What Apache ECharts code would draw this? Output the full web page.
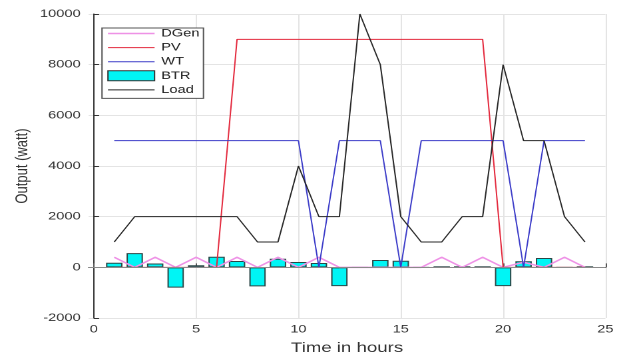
<!DOCTYPE html>
<html>
<head>
<meta charset="utf-8">
<script src="https://cdn.jsdelivr.net/npm/echarts@6/dist/echarts.min.js"></script>
<style>
html,body{margin:0;padding:0;background:#fff;overflow:hidden;}
#c{width:471px;height:358px;transform:scaleX(1.33121);transform-origin:0 0;}
</style>
</head>
<body>
<div id="c"></div>
<script>
// Data
var hours = [1,2,3,4,5,6,7,8,9,10,11,12,13,14,15,16,17,18,19,20,21,22,23,24];
var dgen  = [400,0,400,0,400,0,400,0,400,0,400,0,0,0,0,0,400,0,400,0,200,0,400,0];
var pv    = [0,0,0,0,0,0,9000,9000,9000,9000,9000,9000,9000,9000,9000,9000,9000,9000,9000,0,0,0,0,0];
var wt    = [5000,5000,5000,5000,5000,5000,5000,5000,5000,5000,0,5000,5000,5000,0,5000,5000,5000,5000,5000,0,5000,5000,5000];
var btr   = [180,560,150,-800,80,420,250,-750,340,210,170,-740,0,290,260,0,40,40,40,-740,240,370,0,40];
var load  = [1000,2000,2000,2000,2000,2000,2000,1000,1000,4000,2000,2000,10000,8000,2000,1000,1000,2000,2000,8000,5000,5000,2000,1000];
var xTicks = [0,5,10,15,20,25];
var names = ['DGen','PV','WT','BTR','Load'];

function pairs(arr){ return hours.map(function(h,i){ return [h, arr[i]]; }); }

var chart = echarts.init(document.getElementById('c'), null, {renderer:'canvas', devicePixelRatio:2});
var font = 'Liberation Sans, Arial, Helvetica, sans-serif';
var colors = {DGen:'#ee92e6', PV:'#e3283c', WT:'#3c3cc8', Load:'#262626'};
function lineSeries(name, data, width){
  return {name:name, type:'line', data:pairs(data), symbol:'none', showSymbol:false,
    lineStyle:{color:colors[name], width:width}, itemStyle:{color:colors[name]}, animation:false, z:2};
}
var thinLine = 'path://M0,0H70V2H0Z';
var midLine = 'path://M0,0H70V3H0Z';
chart.setOption({
  animation:false,
  textStyle:{fontFamily:font},
  grid:{left:66.6, right:16.2, top:14, bottom:40, outerBoundsMode:'none', containLabel:false},
  legend:{
    data:[
      {name:'DGen', icon:midLine},
      {name:'PV', icon:thinLine},
      {name:'WT', icon:thinLine},
      {name:'BTR', icon:'rect', itemStyle:{borderWidth:1, borderColor:'#333'}},
      {name:'Load', icon:thinLine}
    ],
    orient:'vertical', left:76.6, top:28,
    padding:[0,3,3,4], itemGap:3.1, itemWidth:35, itemHeight:10, symbolKeepAspect:true,
    backgroundColor:'#fff', borderColor:'#555', borderWidth:1, borderRadius:0,
    textStyle:{fontSize:11, color:'#222', fontFamily:font, lineHeight:10, padding:[0,0,0,0]}
  },
  xAxis:{
    type:'value', min:-0.25, max:25,
    name:'Time in hours', nameLocation:'middle', nameGap:23, nameMoveOverlap:false,
    nameTextStyle:{fontSize:14, color:'#333', fontFamily:font},
    axisLine:{show:true, lineStyle:{color:'#555', width:1}},
    axisTick:{show:true, inside:true, length:4, customValues:xTicks, lineStyle:{color:'#555'}},
    axisLabel:{fontSize:11, color:'#333', margin:6, customValues:xTicks, fontFamily:font},
    splitLine:{show:true, lineStyle:{color:'#e4e4e4', width:1}}
  },
  yAxis:{
    type:'value', min:-2000, max:10000, interval:2000,
    name:'Output (watt)', nameLocation:'middle', nameGap:43, nameMoveOverlap:false,
    nameTextStyle:{fontSize:13, color:'#333', fontFamily:font},
    axisLine:{show:true, lineStyle:{color:'#333', width:1}},
    axisTick:{show:true, inside:true, length:4, lineStyle:{color:'#333'}},
    axisLabel:{fontSize:11, color:'#333', margin:6, fontFamily:font,
      formatter:function(v){ return String(v); }},
    splitLine:{show:true, lineStyle:{color:'#e4e4e4', width:1}}
  },
  series:[
    lineSeries('DGen', dgen, 1.5),
    lineSeries('PV', pv, 1),
    lineSeries('WT', wt, 1),
    {name:'BTR', type:'bar', data:pairs(btr), barWidth:12.3,
      itemStyle:{color:'#00f5f5', borderColor:'#2b4646', borderWidth:1},
      markLine:{silent:true, symbol:'none', label:{show:false},
        lineStyle:{color:'#8a8a8a', width:1, type:'solid'}, data:[{yAxis:0}]},
      animation:false, z:2},
    lineSeries('Load', load, 1)
  ]
});
</script>
</body>
</html>
